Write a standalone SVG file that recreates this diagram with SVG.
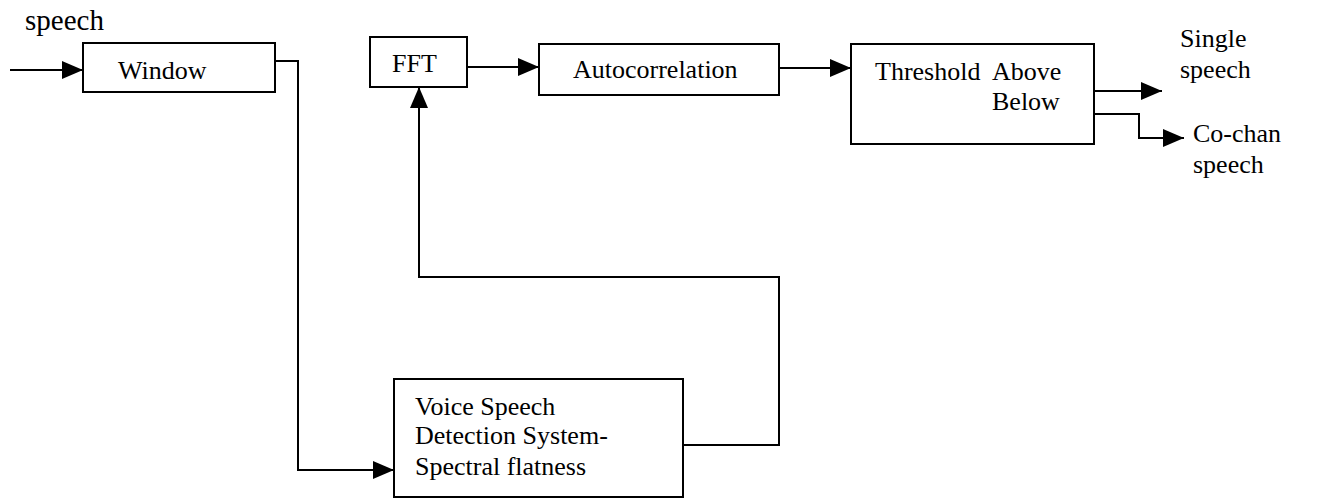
<svg xmlns="http://www.w3.org/2000/svg" width="1337" height="498" viewBox="0 0 1337 498">
  <style>
    .box { fill: #ffffff; stroke: #000000; stroke-width: 2; }
    .wire { fill: none; stroke: #000000; stroke-width: 2; }
    text { fill: #000000; }
  </style>
  <defs>
    <marker id="arrow" viewBox="0 0 21 18" refX="21" refY="9" markerWidth="21" markerHeight="18" markerUnits="userSpaceOnUse" orient="auto">
      <path d="M0,0 L21,9 L0,18 Z" fill="#000000"/>
    </marker>
  </defs>

  <rect width="1337" height="498" fill="#ffffff"/>

  <!-- connectors -->
  <g id="connectors">
    <path class="wire" d="M10,70 H83" marker-end="url(#arrow)"/>
    <path class="wire" d="M275,61 H298 V470 H394" marker-end="url(#arrow)"/>
    <path class="wire" d="M683,445 H779 V277 H419 V87" marker-end="url(#arrow)"/>
    <path class="wire" d="M467,67 H539" marker-end="url(#arrow)"/>
    <path class="wire" d="M779,68 H851" marker-end="url(#arrow)"/>
    <path class="wire" d="M1094,91 H1162" marker-end="url(#arrow)"/>
    <path class="wire" d="M1094,114 H1139 V138 H1184" marker-end="url(#arrow)"/>
  </g>

  <g font-family="Liberation Serif, Times New Roman, DejaVu Serif, serif" font-size="26">
    <!-- input label -->
    <text id="input-label" x="25" y="30" font-size="29">speech</text>

    <g id="window">
      <rect class="box" x="83" y="43" width="192" height="49"/>
      <text x="118" y="79">Window</text>
    </g>

    <g id="fft">
      <rect class="box" x="370" y="37" width="97" height="50"/>
      <text x="392" y="72">FFT</text>
    </g>

    <g id="autocorrelation">
      <rect class="box" x="539" y="44" width="240" height="51"/>
      <text x="573" y="78">Autocorrelation</text>
    </g>

    <g id="threshold">
      <rect class="box" x="851" y="44" width="243" height="100"/>
      <text x="875" y="80" xml:space="preserve">Threshold  Above</text>
      <text x="992" y="110">Below</text>
    </g>

    <g id="voice-detection">
      <rect class="box" x="394" y="379" width="289" height="118"/>
      <text x="415" y="415">Voice Speech</text>
      <text x="415" y="444">Detection System-</text>
      <text x="415" y="475">Spectral flatness</text>
    </g>

    <g id="single-speech">
      <text x="1180" y="47">Single</text>
      <text x="1180" y="78">speech</text>
    </g>

    <g id="cochan-speech">
      <text x="1193" y="142">Co-chan</text>
      <text x="1193" y="173">speech</text>
    </g>
  </g>
</svg>
